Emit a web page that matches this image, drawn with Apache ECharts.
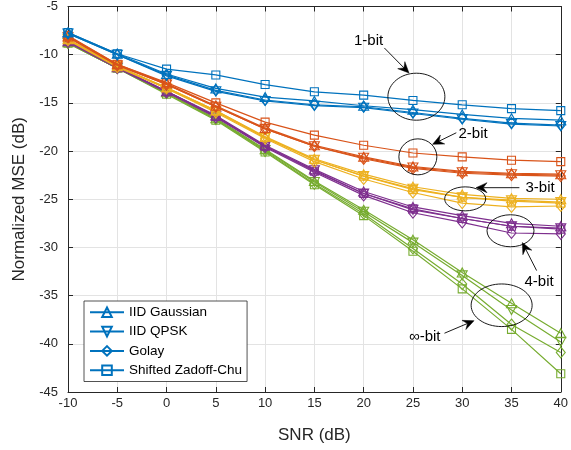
<!DOCTYPE html>
<html>
<head>
<meta charset="utf-8">
<script src="https://cdn.jsdelivr.net/npm/echarts@6/dist/echarts.min.js"></script>
<style>html,body{margin:0;padding:0;background:#fff;}#c{width:571px;height:450px;}</style>
</head>
<body>
<div id="c"></div>
<script>
var snr = [-10, -5, 0, 5, 10, 15, 20, 25, 30, 35, 40];
var xTicks = [-10, -5, 0, 5, 10, 15, 20, 25, 30, 35, 40];
var yTicks = [-45, -40, -35, -30, -25, -20, -15, -10, -5];
var sequenceNames = ['IID Gaussian', 'IID QPSK', 'Golay', 'Shifted Zadoff-Chu'];
var groupNames = ['1-bit', '2-bit', '3-bit', '4-bit', '\u221e-bit'];

// 1-bit
var b1_gauss = [-7.7, -9.9, -12.0, -13.5, -14.4, -14.8, -15.3, -15.7, -16.2, -16.6, -16.8];
var b1_qpsk  = [-7.8, -10.0, -12.2, -13.8, -14.8, -15.3, -15.5, -16.1, -16.7, -17.2, -17.4];
var b1_golay = [-7.8, -10.0, -12.1, -13.7, -14.7, -15.2, -15.4, -16.0, -16.6, -17.1, -17.3];
var b1_zc    = [-7.7, -9.9, -11.5, -12.1, -13.1, -13.85, -14.2, -14.75, -15.2, -15.6, -15.8];
// 2-bit
var b2_gauss = [-8.1, -11.0, -13.0, -15.3, -17.6, -19.4, -20.6, -21.6, -22.1, -22.3, -22.4];
var b2_qpsk  = [-8.2, -11.1, -13.1, -15.4, -17.7, -19.5, -20.7, -21.7, -22.2, -22.4, -22.5];
var b2_golay = [-8.2, -11.1, -13.1, -15.4, -17.7, -19.5, -20.8, -21.8, -22.3, -22.5, -22.6];
var b2_zc    = [-8.0, -11.0, -12.9, -15.0, -17.0, -18.35, -19.4, -20.2, -20.6, -20.95, -21.1];
// 3-bit
var b3_gauss = [-8.4, -11.2, -13.4, -15.8, -18.5, -20.8, -22.4, -23.7, -24.5, -24.9, -25.0];
var b3_qpsk  = [-8.4, -11.2, -13.5, -15.9, -18.6, -20.9, -22.6, -23.9, -24.8, -25.1, -25.3];
var b3_golay = [-8.5, -11.3, -13.5, -16.0, -18.7, -21.1, -22.9, -24.3, -25.4, -25.8, -25.7];
var b3_zc    = [-8.4, -11.2, -13.4, -15.8, -18.6, -20.9, -22.6, -24.0, -24.8, -25.2, -25.4];
// 4-bit
var b4_gauss = [-8.6, -11.3, -13.8, -16.3, -19.4, -21.9, -24.2, -25.8, -26.7, -27.5, -27.8];
var b4_qpsk  = [-8.6, -11.3, -13.8, -16.4, -19.5, -22.0, -24.4, -26.1, -27.0, -27.8, -28.0];
var b4_golay = [-8.7, -11.4, -13.9, -16.5, -19.6, -22.2, -24.6, -26.4, -27.4, -28.5, -28.6];
var b4_zc    = [-8.6, -11.3, -13.8, -16.4, -19.5, -22.1, -24.4, -26.0, -27.0, -27.8, -28.1];
// infinite resolution
var binf_gauss = [-8.7, -11.3, -13.9, -16.6, -19.8, -23.1, -26.1, -29.2, -32.6, -35.8, -38.9];
var binf_qpsk  = [-8.8, -11.4, -14.0, -16.7, -19.9, -23.2, -26.3, -29.5, -32.9, -36.5, -39.8];
var binf_golay = [-8.8, -11.4, -14.0, -16.7, -20.0, -23.4, -26.5, -30.1, -33.8, -38.0, -40.9];
var binf_zc    = [-8.8, -11.4, -14.1, -16.8, -20.1, -23.5, -26.7, -30.4, -34.3, -38.5, -43.1];

var groups = [
  [b1_gauss, b1_qpsk, b1_golay, b1_zc],
  [b2_gauss, b2_qpsk, b2_golay, b2_zc],
  [b3_gauss, b3_qpsk, b3_golay, b3_zc],
  [b4_gauss, b4_qpsk, b4_golay, b4_zc],
  [binf_gauss, binf_qpsk, binf_golay, binf_zc]
];
var colors = ['#0072BD', '#D95319', '#EDB120', '#7E2F8E', '#77AC30'];
var symbols = [
  'path://M5,0 L10,9 L0,9 Z',
  'path://M0,0 L10,0 L5,9 Z',
  'path://M5,0 L10,5 L5,10 L0,5 Z',
  'path://M0,0 L10,0 L10,10 L0,10 Z'
];
var symSizes = [[10, 9], [10, 9], [9, 11], [8, 8]];

// annotations in data coordinates
var annotations = [
  {label: '1-bit', text: [20.5, -8.6], ell: [25.35, -14.36], rx: 28.5, ry: 23.5, from: [22.1, -9.3], to: [24.6, -11.9]},
  {label: '2-bit', text: [31.1, -18.2], ell: [25.5, -20.6], rx: 19, ry: 18, from: [29.4, -18.1], to: [27.0, -19.3]},
  {label: '3-bit', text: [37.9, -23.85], ell: [30.3, -24.96], rx: 20.5, ry: 12, from: [35.8, -23.8], to: [31.4, -23.8]},
  {label: '4-bit', text: [37.8, -33.6], ell: [34.9, -28.27], rx: 23.5, ry: 16, from: [37.55, -32.4], to: [36.1, -29.5]},
  {label: '\u221e-bit', text: [26.2, -39.3], ell: [34.0, -36.0], rx: 30.5, ry: 21.3, from: [28.2, -38.9], to: [31.2, -37.6]}
];

var FONT = 'Liberation Sans, Arial, Helvetica, sans-serif';
var series = [];
groups.forEach(function (grp, gi) {
  grp.forEach(function (vals, si) {
    series.push({
      type: 'line',
      name: gi === 0 ? sequenceNames[si] : groupNames[gi] + ' ' + sequenceNames[si],
      data: snr.map(function (x, i) { return [x, vals[i]]; }),
      symbol: symbols[si],
      symbolSize: symSizes[si],
      showSymbol: true,
      animation: false,
      lineStyle: {color: colors[gi], width: 1.2},
      itemStyle: {color: 'none', borderColor: colors[gi], borderWidth: 1.1},
      emphasis: {disabled: true},
      z: 2 + (4 - gi)
    });
  });
});

var chart = echarts.init(document.getElementById('c'), null, {renderer: 'canvas'});
var axisLineStyle = {color: '#262626', width: 1};
chart.setOption({
  animation: false,
  backgroundColor: '#fff',
  textStyle: {fontFamily: FONT},
  grid: {left: 68, right: 10, top: 5, bottom: 58, containLabel: false},
  legend: {
    data: sequenceNames,
    orient: 'vertical',
    left: 84, top: 301,
    itemWidth: 34, itemHeight: 12, itemGap: 4.7,
    padding: [4, 5, 4, 5],
    borderColor: '#262626', borderWidth: 0.8,
    backgroundColor: '#fff',
    selectedMode: false,
    textStyle: {fontSize: 13.5, color: '#000', fontFamily: FONT, lineHeight: 14}
  },
  xAxis: [{
    type: 'value', min: xTicks[0], max: xTicks[xTicks.length - 1], interval: 5,
    name: 'SNR (dB)', nameLocation: 'middle', nameGap: 35,
    nameTextStyle: {fontSize: 17, color: '#262626', fontFamily: FONT},
    axisLine: {show: true, lineStyle: axisLineStyle},
    axisTick: {show: true, inside: true, length: 5, lineStyle: axisLineStyle},
    axisLabel: {fontSize: 13, color: '#262626', margin: 5, fontFamily: FONT},
    splitLine: {show: true, lineStyle: {color: '#e3e3e3', width: 1}}
  }, {
    type: 'value', position: 'top', min: xTicks[0], max: xTicks[xTicks.length - 1], interval: 5,
    axisLine: {show: true, onZero: false, lineStyle: axisLineStyle},
    axisTick: {show: true, inside: true, length: 5, lineStyle: axisLineStyle},
    axisLabel: {show: false}, splitLine: {show: false}
  }],
  yAxis: [{
    type: 'value', min: yTicks[0], max: yTicks[yTicks.length - 1], interval: 5,
    name: 'Normalized MSE (dB)', nameLocation: 'middle', nameGap: 37,
    nameTextStyle: {fontSize: 17, color: '#262626', fontFamily: FONT},
    axisLine: {show: true, onZero: false, lineStyle: axisLineStyle},
    axisTick: {show: true, inside: true, length: 5, lineStyle: axisLineStyle},
    axisLabel: {fontSize: 13, color: '#262626', margin: 10, fontFamily: FONT},
    splitLine: {show: true, lineStyle: {color: '#e3e3e3', width: 1}}
  }, {
    type: 'value', position: 'right', min: yTicks[0], max: yTicks[yTicks.length - 1], interval: 5,
    axisLine: {show: true, onZero: false, lineStyle: axisLineStyle},
    axisTick: {show: true, inside: true, length: 5, lineStyle: axisLineStyle},
    axisLabel: {show: false}, splitLine: {show: false}
  }],
  series: series
});

function px(p) { return chart.convertToPixel({xAxisIndex: 0, yAxisIndex: 0}, p); }
var graphics = [];
annotations.forEach(function (a) {
  var c = px(a.ell), t = px(a.text), f = px(a.from), e = px(a.to);
  graphics.push({type: 'ellipse', shape: {cx: c[0], cy: c[1], rx: a.rx, ry: a.ry},
    style: {fill: 'none', stroke: '#000', lineWidth: 0.9}, z: 100});
  var dx = e[0] - f[0], dy = e[1] - f[1], len = Math.sqrt(dx * dx + dy * dy);
  var ux = dx / len, uy = dy / len, nx = -uy, ny = ux;
  var L = 11, W = 10;
  var back = [e[0] - L * ux, e[1] - L * uy];
  var notch = [e[0] - 0.65 * L * ux, e[1] - 0.65 * L * uy];
  graphics.push({type: 'line', shape: {x1: f[0], y1: f[1], x2: notch[0], y2: notch[1]},
    style: {stroke: '#000', lineWidth: 0.9}, z: 100});
  graphics.push({type: 'polygon', shape: {points: [
    [e[0], e[1]], [back[0] + W / 2 * nx, back[1] + W / 2 * ny], notch, [back[0] - W / 2 * nx, back[1] - W / 2 * ny]
  ]}, style: {fill: '#000', stroke: '#000', lineWidth: 0.5}, z: 100});
  graphics.push({type: 'text', x: t[0], y: t[1], style: {text: a.label, fill: '#000',
    font: '15px ' + FONT, align: 'center', verticalAlign: 'middle'}, z: 101});
});
chart.setOption({graphic: graphics});
</script>
</body>
</html>
